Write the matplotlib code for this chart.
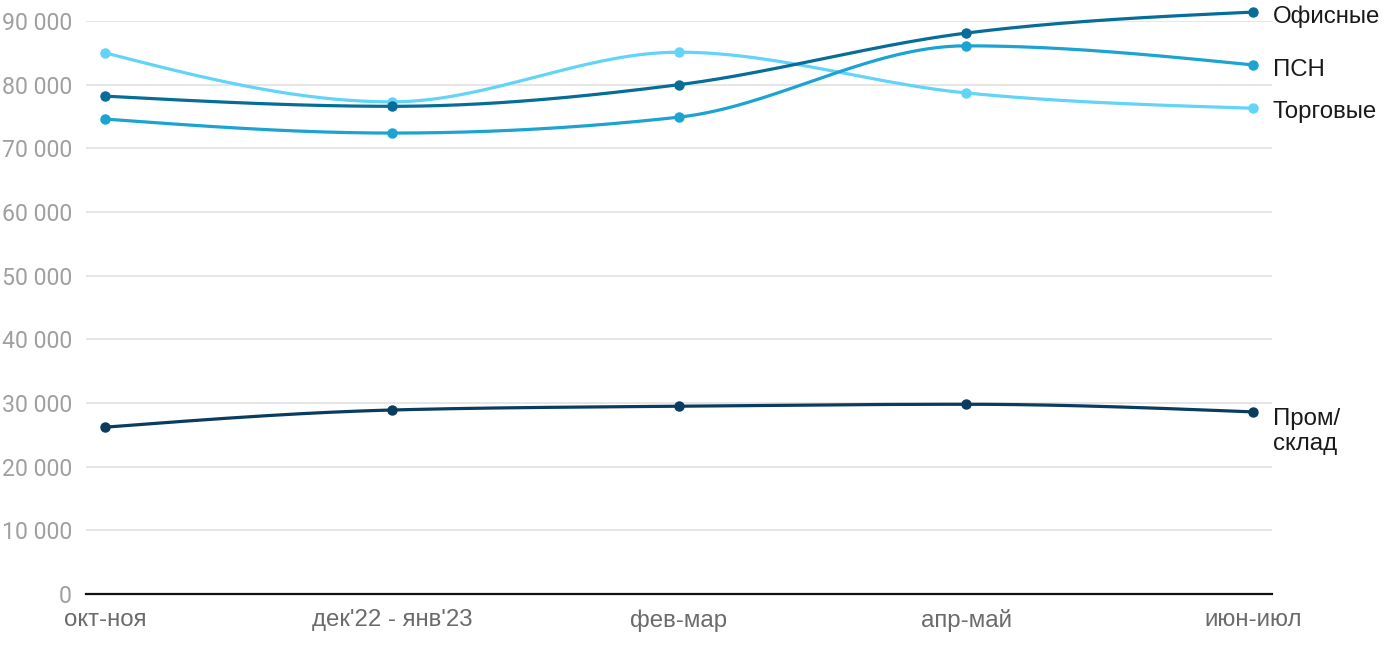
import numpy as np
import matplotlib.pyplot as plt
from matplotlib.ticker import FuncFormatter

plt.rcParams['font.family'] = ['Liberation Sans', 'DejaVu Sans']

# Data
periods = ["окт-ноя", "дек'22 - янв'23", "фев-мар", "апр-май", "июн-июл"]
offices = [78200, 76600, 80000, 88100, 91400]
psn = [74600, 72400, 74900, 86100, 83100]
retail = [85000, 77300, 85100, 78700, 76300]
industrial = [26200, 28900, 29500, 29800, 28600]

series = [
    ("Торговые", retail, "#62d4f7"),
    ("ПСН", psn, "#1ba3d1"),
    ("Офисные", offices, "#066d98"),
    ("Пром/\nсклад", industrial, "#0a3c5f"),
]
label_offsets = {"Офисные": -3, "ПСН": -4, "Торговые": -3, "Пром/\nсклад": -14}


# d3-style monotone-x curve through the points (only for drawing)
def monotone_curve(x, y, n=60):
    x = np.asarray(x, float)
    y = np.asarray(y, float)
    h = np.diff(x)
    s = np.diff(y) / h
    t = np.zeros(len(x))
    for i in range(1, len(x) - 1):
        p = (s[i - 1] * h[i] + s[i] * h[i - 1]) / (h[i - 1] + h[i])
        t[i] = (np.sign(s[i - 1]) + np.sign(s[i])) * min(abs(s[i - 1]), abs(s[i]), 0.5 * abs(p))
    t[0] = (3 * s[0] - t[1]) / 2
    t[-1] = (3 * s[-1] - t[-2]) / 2
    xs, ys = [], []
    for i in range(len(x) - 1):
        u = np.linspace(0, 1, n)
        h00 = 2 * u**3 - 3 * u**2 + 1
        h10 = u**3 - 2 * u**2 + u
        h01 = -2 * u**3 + 3 * u**2
        h11 = u**3 - u**2
        xs.append(x[i] + u * h[i])
        ys.append(h00 * y[i] + h10 * h[i] * t[i] + h01 * y[i + 1] + h11 * h[i] * t[i + 1])
    return np.concatenate(xs), np.concatenate(ys)


fig = plt.figure(figsize=(14, 6.5), dpi=100)
ax = fig.add_axes([86 / 1400, 1 - 594 / 650, (1272 - 86) / 1400, (594 - 21) / 650])

xpos = np.arange(len(periods))
for name, vals, color in series:
    cx, cy = monotone_curve(xpos, vals)
    ax.plot(cx, cy, color=color, lw=2.3, clip_on=False, zorder=3, solid_capstyle='round')
    ax.plot(xpos, vals, 'o', color=color, ms=6.5, clip_on=False, zorder=4)
    ax.annotate(name, xy=(xpos[-1], vals[-1]), xytext=(14, label_offsets[name]),
                textcoords='offset points', ha='left', va='center',
                fontsize=17.3, color='#1a1a1a', linespacing=1.2, annotation_clip=False)

ax.set_xlim(-0.066, 4.066)
ax.set_ylim(0, 90000)
ax.set_yticks(np.arange(0, 90001, 10000))
ax.yaxis.set_major_formatter(FuncFormatter(lambda v, p: f"{int(v):,}".replace(",", " ")))
ax.set_xticks(xpos)
ax.set_xticklabels(periods)
for lbl in ax.get_yticklabels():
    lbl.set_family(['Roboto', 'DejaVu Sans'])

ax.grid(axis='y', color='#e2e2e2', lw=1.2)
ax.set_axisbelow(True)
for sp in ['top', 'right', 'left']:
    ax.spines[sp].set_visible(False)
ax.spines['bottom'].set_color('#111111')
ax.spines['bottom'].set_linewidth(1.6)
ax.spines['bottom'].set_zorder(5)

ax.tick_params(axis='y', length=0, pad=10, labelsize=16.7, labelcolor='#a0a0a0')
ax.tick_params(axis='x', length=0, pad=11, labelsize=17.3, labelcolor='#6b6b6b')

fig.savefig("out.png", dpi=100)
